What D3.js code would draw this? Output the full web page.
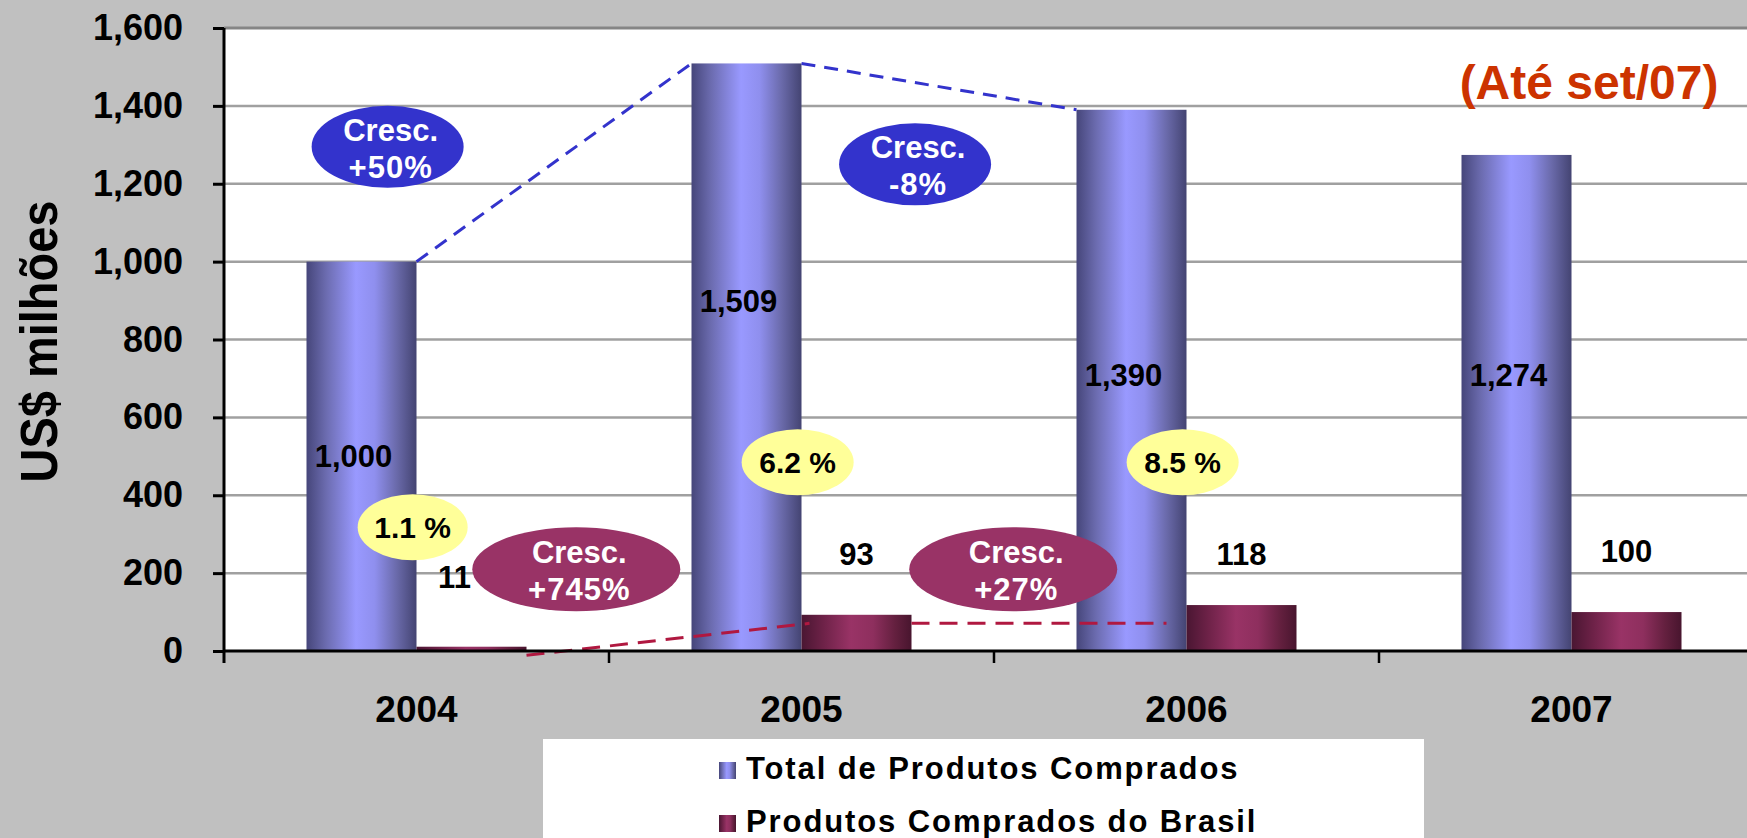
<!DOCTYPE html>
<html>
<head>
<meta charset="utf-8">
<script src="https://cdn.jsdelivr.net/npm/d3@7"></script>
<style>
  body { margin: 0; background: #c0c0c0; overflow: hidden; }
  text { font-family: "Liberation Sans", Arial, sans-serif; font-weight: bold; }
</style>
</head>
<body>
<div id="chart"></div>
<script>
// Data
const years = ["2004", "2005", "2006", "2007"];
const seriesNames = ["Total de Produtos Comprados", "Produtos Comprados do Brasil"];
const totalValues = [1000, 1509, 1390, 1274];
const brasilValues = [11, 93, 118, 100];
const yTicks = [0, 200, 400, 600, 800, 1000, 1200, 1400, 1600];
const shareLabels = ["1.1 %", "6.2 %", "8.5 %"];
const totalGrowth = ["+50%", "-8%"];
const brasilGrowth = ["+745%", "+27%"];
const noteText = "(Até set/07)";

// Where the data labels sit (in value units, as moved by hand in the original)
const totalLabelAt = [500, 900, 710, 710];
const brasilLabelAt = [190, 250, 250, 256];

const width = 1747, height = 838;
const plot = { left: 224, right: 1764, top: 28, bottom: 651 };

function init() {
    const svg = d3.select("#chart")
        .append("svg")
        .attr("width", width)
        .attr("height", height);

    svg.append("rect").attr("width", width).attr("height", height).attr("fill", "#c0c0c0");

    // Scales
    const x = d3.scaleBand().domain(years).range([plot.left, plot.right]);
    const xs = d3.scaleBand().domain(["total", "brasil"])
        .range([0, x.bandwidth()]).paddingOuter(0.75);
    const y = d3.scaleLinear().domain([0, 1600]).range([plot.bottom, plot.top]);
    const bw = xs.bandwidth();

    // Gradients for the cylinder-like bars
    const defs = svg.append("defs");
    function grad(id, stops) {
        const g = defs.append("linearGradient").attr("id", id)
            .attr("x1", "0%").attr("x2", "100%").attr("y1", "0%").attr("y2", "0%");
        stops.forEach(s => g.append("stop").attr("offset", s[0]).attr("stop-color", s[1]));
    }
    grad("gTotal", [["0%", "#46467a"], ["18%", "#6c6cb0"], ["45%", "#9999ff"], ["62%", "#8f8fee"], ["82%", "#6a6aaa"], ["100%", "#444472"]]);
    grad("gBrasil", [["0%", "#4a1632"], ["20%", "#6e2248"], ["45%", "#993366"], ["65%", "#8e2f5e"], ["85%", "#64203f"], ["100%", "#48152e"]]);

    // Plot area
    svg.append("rect")
        .attr("x", plot.left).attr("y", plot.top)
        .attr("width", width - plot.left).attr("height", plot.bottom - plot.top)
        .attr("fill", "#fff");

    // Gridlines
    svg.append("g").selectAll("line")
        .data(yTicks.filter(d => d > 0))
        .enter().append("line")
        .attr("x1", plot.left).attr("x2", width)
        .attr("y1", d => y(d)).attr("y2", d => y(d))
        .attr("stroke", d => d === 1600 ? "#858585" : "#a0a0a0")
        .attr("stroke-width", d => d === 1600 ? 3 : 2.5);

    // Bars
    svg.append("g").selectAll("rect")
        .data(totalValues)
        .enter().append("rect")
        .attr("x", (d, i) => x(years[i]) + xs("total"))
        .attr("y", d => y(d))
        .attr("width", bw)
        .attr("height", d => y(0) - y(d))
        .attr("fill", "url(#gTotal)");

    svg.append("g").selectAll("rect")
        .data(brasilValues)
        .enter().append("rect")
        .attr("x", (d, i) => x(years[i]) + xs("brasil"))
        .attr("y", d => y(d))
        .attr("width", bw)
        .attr("height", d => y(0) - y(d))
        .attr("fill", "url(#gBrasil)");

    // Growth connector lines (dashed)
    const barLeft = (i, s) => x(years[i]) + xs(s);
    const barRight = (i, s) => x(years[i]) + xs(s) + bw;
    const blueLines = [
        [barRight(0, "total"), y(totalValues[0]), barLeft(1, "total"), y(totalValues[1])],
        [barRight(1, "total"), y(totalValues[1]), barLeft(2, "total"), y(totalValues[2])]
    ];
    const redLines = [
        [barRight(0, "brasil"), y(-11), barLeft(1, "brasil") + 8, y(71)],
        [barRight(1, "brasil"), y(71), barLeft(2, "brasil") - 20, y(71)]
    ];
    svg.append("g").selectAll("line")
        .data(blueLines).enter().append("line")
        .attr("x1", d => d[0]).attr("y1", d => d[1])
        .attr("x2", d => d[2]).attr("y2", d => d[3])
        .attr("stroke", "#3333cc").attr("stroke-width", 3)
        .attr("stroke-dasharray", "14,9");
    svg.append("g").selectAll("line")
        .data(redLines).enter().append("line")
        .attr("x1", d => d[0]).attr("y1", d => d[1])
        .attr("x2", d => d[2]).attr("y2", d => d[3])
        .attr("stroke", "#b01840").attr("stroke-width", 3)
        .attr("stroke-dasharray", "18,10");

    // Y axis
    const yAxis = d3.axisLeft(y)
        .tickValues(yTicks)
        .tickSize(11)
        .tickPadding(30)
        .tickFormat(d3.format(","));
    const yg = svg.append("g")
        .attr("transform", `translate(${plot.left},0)`)
        .call(yAxis);
    yg.select(".domain").remove();
    yg.selectAll("line").attr("stroke", "#000").attr("stroke-width", 3);
    yg.selectAll("text").attr("fill", "#000").style("font-size", "36px");

    // X axis
    const xAxis = d3.axisBottom(x).tickSize(0).tickPadding(45);
    const xg = svg.append("g")
        .attr("transform", `translate(0,${plot.bottom})`)
        .call(xAxis);
    xg.select(".domain").remove();
    xg.selectAll("text").attr("fill", "#000").style("font-size", "37px");

    svg.append("line")
        .attr("x1", plot.left).attr("x2", width)
        .attr("y1", plot.bottom).attr("y2", plot.bottom)
        .attr("stroke", "#000").attr("stroke-width", 3);
    svg.append("line")
        .attr("x1", plot.left).attr("x2", plot.left)
        .attr("y1", plot.top).attr("y2", plot.bottom + 12)
        .attr("stroke", "#000").attr("stroke-width", 3);
    svg.append("g").selectAll("line")
        .data(years.slice(1)).enter().append("line")
        .attr("x1", d => x(d)).attr("x2", d => x(d))
        .attr("y1", plot.bottom).attr("y2", plot.bottom + 12)
        .attr("stroke", "#000").attr("stroke-width", 2.5);

    // Axis title
    svg.append("text")
        .attr("transform", `translate(57,${(plot.top + plot.bottom) / 2 + 2}) rotate(-90)`)
        .attr("text-anchor", "middle")
        .attr("textLength", 282)
        .attr("lengthAdjust", "spacingAndGlyphs")
        .style("font-size", "52px")
        .attr("fill", "#000")
        .text("US$ milhões");

    // Value labels
    const fmt = d3.format(",");
    svg.append("g").selectAll("text")
        .data(totalValues).enter().append("text")
        .attr("x", (d, i) => barLeft(i, "total") + bw / 2 - 8)
        .attr("y", (d, i) => y(totalLabelAt[i]))
        .attr("dy", "0.36em")
        .attr("text-anchor", "middle")
        .style("font-size", "31px")
        .text(d => fmt(d));
    svg.append("g").selectAll("text")
        .data(brasilValues).enter().append("text")
        .attr("x", (d, i) => barLeft(i, "brasil") + bw / 2 - (i === 0 ? 17 : 0))
        .attr("y", (d, i) => y(brasilLabelAt[i]))
        .attr("dy", "0.36em")
        .attr("text-anchor", "middle")
        .style("font-size", "31px")
        .text(d => fmt(d));

    // Ellipse callouts: [year index, fraction of band, value]
    const posX = (i, f) => x(years[i]) + f * x.bandwidth();
    const bubbles = [
        { i: 0, f: 0.425, v: 1295, rx: 76, ry: 41, fill: "#3333cc", color: "#fff", lines: ["Cresc.", totalGrowth[0]] },
        { i: 1, f: 0.795, v: 1250, rx: 76, ry: 41, fill: "#3333cc", color: "#fff", lines: ["Cresc.", totalGrowth[1]] },
        { i: 0, f: 0.915, v: 210, rx: 104, ry: 42, fill: "#993366", color: "#fff", lines: ["Cresc.", brasilGrowth[0]] },
        { i: 2, f: 0.05, v: 210, rx: 104, ry: 42, fill: "#993366", color: "#fff", lines: ["Cresc.", brasilGrowth[1]] },
        { i: 0, f: 0.49, v: 318, rx: 55, ry: 33, fill: "#ffff99", color: "#000", lines: [shareLabels[0]] },
        { i: 1, f: 0.49, v: 485, rx: 56, ry: 33, fill: "#ffff99", color: "#000", lines: [shareLabels[1]] },
        { i: 2, f: 0.49, v: 485, rx: 56, ry: 33, fill: "#ffff99", color: "#000", lines: [shareLabels[2]] }
    ];
    const bg = svg.append("g").selectAll("g")
        .data(bubbles).enter().append("g")
        .attr("transform", d => `translate(${posX(d.i, d.f)},${y(d.v)})`);
    bg.append("ellipse")
        .attr("rx", d => d.rx).attr("ry", d => d.ry)
        .attr("fill", d => d.fill);
    bg.each(function (d) {
        const g = d3.select(this);
        if (d.lines.length === 2) {
            g.append("text").attr("x", 3).attr("y", -6).attr("text-anchor", "middle")
                .style("font-size", "31px").attr("fill", d.color).text(d.lines[0]);
            g.append("text").attr("x", 3).attr("y", 31).attr("text-anchor", "middle")
                .style("font-size", "31px").style("letter-spacing", "1px")
                .attr("fill", d.color).text(d.lines[1]);
        } else {
            g.append("text").attr("y", 11).attr("text-anchor", "middle")
                .style("font-size", "30px").attr("fill", d.color).text(d.lines[0]);
        }
    });

    // Note
    svg.append("text")
        .attr("x", 1589).attr("y", 99)
        .attr("text-anchor", "middle")
        .style("font-size", "48px")
        .attr("fill", "#cc3300")
        .text(noteText);

    // Legend
    const legend = svg.append("g");
    legend.append("rect")
        .attr("x", 543).attr("y", 739)
        .attr("width", 881).attr("height", 110)
        .attr("fill", "#fff");
    const items = legend.selectAll("g.item")
        .data(seriesNames).enter().append("g")
        .attr("class", "item")
        .attr("transform", (d, i) => `translate(719,${779 + i * 53})`);
    items.append("rect")
        .attr("x", 0).attr("y", -17)
        .attr("width", 17).attr("height", 17)
        .attr("fill", (d, i) => i === 0 ? "url(#gTotal)" : "url(#gBrasil)");
    items.append("text")
        .attr("x", 27).attr("y", 0)
        .style("font-size", "31px")
        .style("letter-spacing", "1.9px")
        .attr("fill", "#000")
        .text(d => d);
}

window.onload = init;
</script>
</body>
</html>
